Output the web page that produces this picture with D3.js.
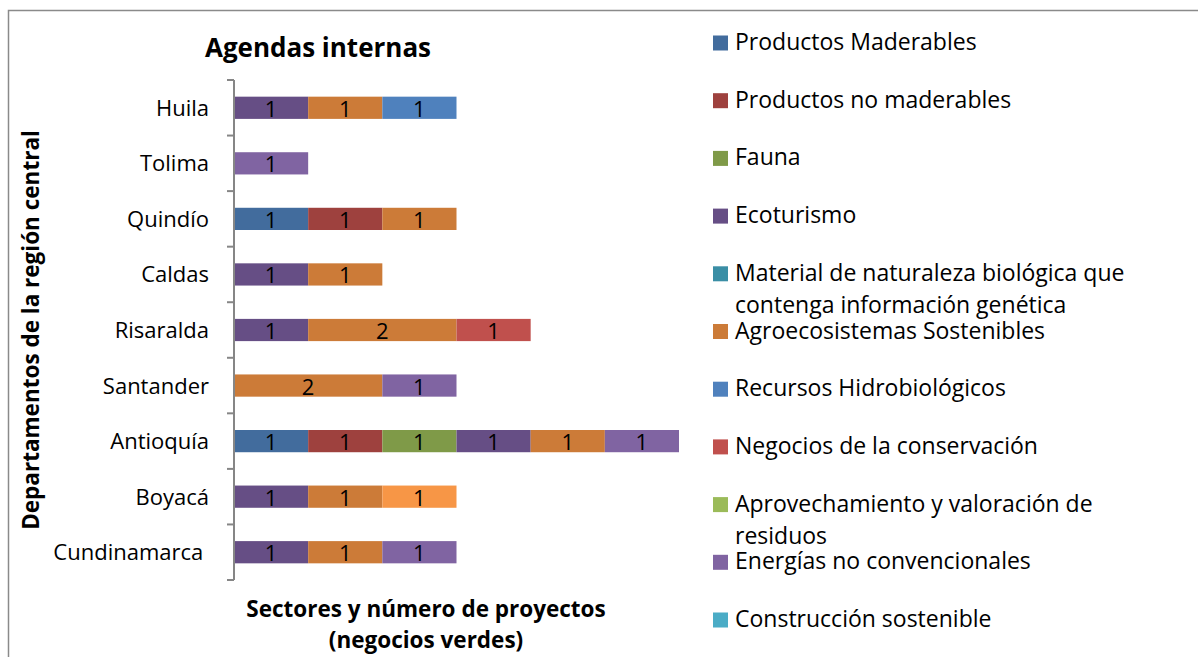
<!DOCTYPE html>
<html>
<head>
<meta charset="utf-8">
<script src="https://cdn.jsdelivr.net/npm/d3@7"></script>
<style>
  body { margin: 0; background: #fff; }
  text { font-family: "Open Sans", sans-serif; }
</style>
</head>
<body>
<div id="chart"></div>
<script>
// categories, bottom to top as in the original sheet
var departamentos = ["Cundinamarca ", "Boyacá", "Antioquía", "Santander", "Risaralda", "Caldas", "Quindío", "Tolima", "Huila"];

var sectores = ["Productos Maderables", "Productos no maderables", "Fauna", "Ecoturismo",
    "Material de naturaleza biológica que contenga información genética", "Agroecosistemas Sostenibles",
    "Recursos Hidrobiológicos", "Negocios de la conservación", "Aprovechamiento y valoración de residuos",
    "Energías no convencionales", "Construcción sostenible", "Otros"];

// one array per sector, same order as departamentos
var maderables     = [0, 0, 1, 0, 0, 0, 1, 0, 0];
var noMaderables   = [0, 0, 1, 0, 0, 0, 1, 0, 0];
var fauna          = [0, 0, 1, 0, 0, 0, 0, 0, 0];
var ecoturismo     = [1, 1, 1, 0, 1, 1, 0, 0, 1];
var material       = [0, 0, 0, 0, 0, 0, 0, 0, 0];
var agro           = [1, 1, 1, 2, 2, 1, 1, 0, 1];
var hidro          = [0, 0, 0, 0, 0, 0, 0, 0, 1];
var conservacion   = [0, 0, 0, 0, 1, 0, 0, 0, 0];
var residuos       = [0, 0, 0, 0, 0, 0, 0, 0, 0];
var energias       = [1, 0, 1, 1, 0, 0, 0, 1, 0];
var construccion   = [0, 0, 0, 0, 0, 0, 0, 0, 0];
var otros          = [0, 1, 0, 0, 0, 0, 0, 0, 0];

var xTicks = [0, 1, 2, 3, 4, 5, 6];

var colores = ["#426C9D", "#9E413E", "#7F9A48", "#664E85", "#3A8EA5", "#CC7B38",
    "#4F81BD", "#C0504D", "#9BBB59", "#8064A2", "#4BACC6", "#F79646"];

var series = [maderables, noMaderables, fauna, ecoturismo, material, agro,
    hidro, conservacion, residuos, energias, construccion, otros];

// build rows for d3.stack
var rows = departamentos.map(function(d, i) {
    var row = {dep: d};
    sectores.forEach(function(s, j) { row[s] = series[j][i]; });
    return row;
});

var width = 1198, height = 657;

var svg = d3.select("#chart")
    .append("svg")
    .attr("width", width)
    .attr("height", height);

// chart frame (only top and left visible in the crop)
svg.append("path")
    .attr("d", "M8.5,657 L8.5,10.5 L1198,10.5")
    .attr("fill", "none")
    .attr("stroke", "#8a8a8a")
    .attr("stroke-width", 1.5);

var x = d3.scaleLinear()
    .domain([xTicks[0], xTicks[xTicks.length - 1]])
    .range([234, 679]);

var y = d3.scaleBand()
    .domain(departamentos)
    .range([580, 80]);

var barH = y.bandwidth() * 0.4;

var stack = d3.stack().keys(sectores)(rows);

var layers = svg.append("g")
    .selectAll("g")
    .data(stack)
    .join("g")
    .attr("fill", function(d, i) { return colores[i]; });

layers.selectAll("rect")
    .data(function(d) { return d.filter(function(v) { return v[1] - v[0] > 0; }); })
    .join("rect")
    .attr("x", function(d) { return x(d[0]); })
    .attr("width", function(d) { return x(d[1]) - x(d[0]); })
    .attr("y", function(d) { return y(d.data.dep) + y.bandwidth() / 2 - barH / 2; })
    .attr("height", barH);

// value labels
layers.selectAll("text")
    .data(function(d) { return d.filter(function(v) { return v[1] - v[0] > 0; }); })
    .join("text")
    .attr("x", function(d) { return (x(d[0]) + x(d[1])) / 2; })
    .attr("y", function(d) { return y(d.data.dep) + y.bandwidth() / 2 + 9; })
    .attr("text-anchor", "middle")
    .attr("fill", "#000")
    .style("font-size", "22px")
    .text(function(d) { return d[1] - d[0]; });

// vertical axis with ticks between categories
var axis = svg.append("g");
axis.append("line")
    .attr("x1", x(0)).attr("x2", x(0))
    .attr("y1", y.range()[1]).attr("y2", y.range()[0])
    .attr("stroke", "#868686").attr("stroke-width", 2);

var bounds = departamentos.map(function(d) { return y(d); }).concat([y.range()[0]]);
axis.selectAll(".tick")
    .data(bounds)
    .join("line")
    .attr("class", "tick")
    .attr("x1", x(0) - 7).attr("x2", x(0))
    .attr("y1", function(d) { return d; }).attr("y2", function(d) { return d; })
    .attr("stroke", "#868686").attr("stroke-width", 2);

axis.selectAll(".lbl")
    .data(departamentos)
    .join("text")
    .attr("class", "lbl")
    .attr("x", 209)
    .attr("y", function(d) { return y(d) + y.bandwidth() / 2 + 8; })
    .attr("text-anchor", "end")
    .style("font-size", "22px")
    .style("white-space", "pre")
    .attr("fill", "#000")
    .text(function(d) { return d; });

// titles
svg.append("text")
    .attr("x", 318).attr("y", 57)
    .attr("text-anchor", "middle")
    .style("font-size", "26px").style("font-weight", "bold")
    .text("Agendas internas");

svg.append("text")
    .attr("transform", "translate(39," + (y.range()[0] + y.range()[1]) / 2 + ") rotate(-90)")
    .attr("text-anchor", "middle")
    .style("font-size", "22.5px").style("font-weight", "bold")
    .text("Departamentos de la región central");

var xt = svg.append("text")
    .attr("text-anchor", "middle")
    .style("font-size", "22.5px").style("font-weight", "bold");
xt.append("tspan").attr("x", 426).attr("y", 617).text("Sectores y número de proyectos");
xt.append("tspan").attr("x", 426).attr("y", 648).text("(negocios verdes)");

// legend
var legend = svg.append("g");
var maxW = 420;
sectores.forEach(function(s, i) {
    var cy = 43 + i * 57.7;
    legend.append("rect")
        .attr("x", 713).attr("y", cy - 7.5)
        .attr("width", 15).attr("height", 15)
        .attr("fill", colores[i]);
    var t = legend.append("text")
        .attr("x", 735).attr("y", cy + 7)
        .style("font-size", "23px")
        .attr("fill", "#000");
    // simple word wrap
    var words = s.split(" "), line = [], lineNo = 0;
    var tspan = t.append("tspan").attr("x", 735).attr("y", cy + 7);
    words.forEach(function(w) {
        line.push(w);
        tspan.text(line.join(" "));
        if (tspan.node().getComputedTextLength() > maxW && line.length > 1) {
            line.pop();
            tspan.text(line.join(" "));
            line = [w];
            lineNo++;
            tspan = t.append("tspan").attr("x", 735).attr("y", cy + 7 + lineNo * 32).text(w);
        }
    });
});
</script>
</body>
</html>
